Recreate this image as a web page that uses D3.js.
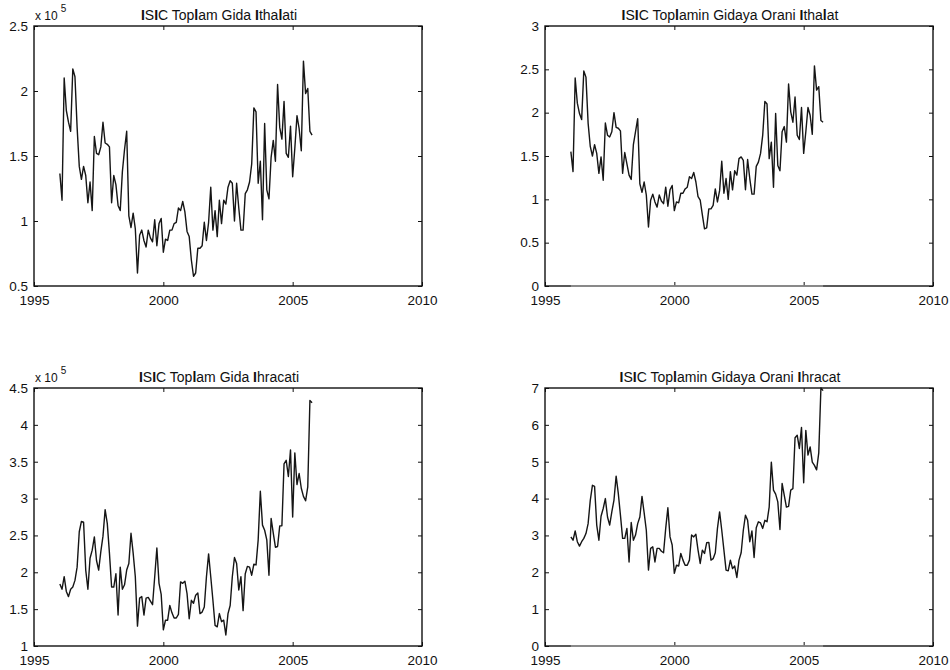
<!DOCTYPE html>
<html>
<head>
<meta charset="utf-8">
<script src="https://cdn.jsdelivr.net/npm/d3@7"></script>
<style>
  html, body { margin: 0; padding: 0; background: #fff; }
  svg { display: block; }
  text { font-family: "Liberation Sans", Arial, sans-serif; fill: #111; }
</style>
</head>
<body>
<svg id="chart" width="950" height="670"></svg>
<script>
// Monthly series, Jan 1996 .. Oct 2005
const startYear = 1996;
const monthsPerYear = 12;

// Total food imports (x 10^5)
const importTotal = [
  1.365,1.16,2.10,1.85,1.76,1.69,2.17,2.11,1.72,1.42,
  1.32,1.42,1.35,1.14,1.30,1.08,1.65,1.52,1.51,1.57,
  1.76,1.60,1.59,1.57,1.14,1.35,1.28,1.12,1.08,1.38,
  1.55,1.69,1.04,0.95,1.06,0.94,0.60,0.89,0.93,0.85,
  0.80,0.93,0.87,0.84,1.01,0.81,0.98,1.02,0.76,0.86,
  0.85,0.93,0.93,0.98,0.99,1.10,1.08,1.15,1.07,0.92,
  0.88,0.70,0.575,0.60,0.79,0.79,0.81,0.99,0.85,0.99,
  1.26,0.93,1.08,0.88,1.16,0.98,1.16,1.13,1.26,1.31,
  1.29,1.00,1.29,1.10,0.93,0.93,1.21,1.24,1.30,1.44,
  1.87,1.84,1.29,1.46,1.01,1.75,1.24,1.17,1.49,1.62,
  1.46,2.05,1.72,1.63,1.92,1.52,1.49,1.73,1.34,1.56,
  1.81,1.71,1.54,2.23,1.98,2.02,1.69,1.66
];

// Food share of total imports
const importRatio = [
  1.55,1.32,2.40,2.11,1.99,1.92,2.48,2.41,1.88,1.61,
  1.50,1.63,1.53,1.30,1.49,1.22,1.88,1.74,1.72,1.78,
  2.00,1.83,1.82,1.79,1.30,1.54,1.41,1.28,1.23,1.63,
  1.78,1.93,1.18,1.08,1.20,1.05,0.68,0.99,1.06,0.97,
  0.91,1.05,0.98,0.95,1.14,0.92,1.11,1.16,0.87,0.97,
  0.96,1.07,1.07,1.12,1.14,1.26,1.24,1.31,1.20,1.03,
  0.99,0.82,0.66,0.67,0.89,0.89,0.93,1.12,0.97,1.10,
  1.44,1.07,1.24,1.00,1.32,1.11,1.33,1.28,1.47,1.49,
  1.45,1.11,1.46,1.24,1.06,1.06,1.38,1.43,1.53,1.74,
  2.13,2.10,1.47,1.66,1.14,1.99,1.39,1.33,1.78,1.84,
  1.66,2.33,2.01,1.89,2.18,1.74,1.69,2.06,1.53,1.78,
  2.06,1.97,1.75,2.54,2.26,2.30,1.91,1.89
];

// Total food exports (x 10^5)
const exportTotal = [
  1.84,1.77,1.94,1.74,1.67,1.77,1.80,1.89,2.07,2.55,
  2.69,2.68,2.03,1.77,2.19,2.30,2.48,2.16,2.03,2.28,
  2.49,2.85,2.66,2.26,1.80,1.80,1.98,1.42,2.07,1.77,
  1.83,2.03,2.12,2.53,2.26,1.94,1.27,1.65,1.67,1.42,
  1.65,1.66,1.61,1.56,1.94,2.33,1.85,1.70,1.22,1.35,
  1.35,1.55,1.45,1.38,1.38,1.43,1.87,1.85,1.88,1.71,
  1.37,1.62,1.58,1.69,1.72,1.44,1.46,1.53,1.94,2.25,
  1.94,1.62,1.28,1.26,1.44,1.33,1.35,1.15,1.44,1.55,
  1.94,2.20,2.12,1.76,1.94,1.48,1.98,2.08,2.07,1.96,
  2.11,2.10,2.44,3.10,2.64,2.57,2.44,1.96,2.73,2.53,
  2.34,2.35,2.63,2.63,3.47,3.52,3.30,3.66,2.75,3.62,
  3.19,3.34,3.14,3.03,2.97,3.16,4.33,4.30
];

// Food share of total exports
const exportRatio = [
  2.96,2.87,3.12,2.83,2.71,2.83,2.92,3.05,3.32,3.95,
  4.36,4.33,3.28,2.87,3.52,3.73,4.00,3.50,3.28,3.64,
  3.96,4.61,4.14,3.55,2.92,2.92,3.19,2.28,3.35,2.87,
  3.01,3.32,3.50,4.06,3.61,3.14,2.06,2.65,2.69,2.28,
  2.65,2.65,2.57,2.53,3.19,3.75,2.96,2.74,1.97,2.19,
  2.17,2.51,2.33,2.19,2.19,2.33,3.01,2.96,3.03,2.60,
  2.24,2.60,2.51,2.80,2.81,2.33,2.37,2.53,3.19,3.64,
  3.14,2.60,2.06,2.04,2.33,2.10,2.17,1.86,2.33,2.53,
  3.14,3.55,3.41,2.83,3.12,2.40,3.21,3.37,3.34,3.19,
  3.41,3.37,3.77,4.99,4.23,4.12,3.91,3.16,4.41,4.09,
  3.77,3.79,4.23,4.27,5.65,5.72,5.36,5.93,4.43,5.85,
  5.18,5.40,4.99,4.90,4.78,5.24,7.00,6.93
];

const xTicks = [1995, 2000, 2005, 2010];
const yTicksImportTotal = [0.5, 1, 1.5, 2, 2.5];
const yTicksImportRatio = [0, 0.5, 1, 1.5, 2, 2.5, 3];
const yTicksExportTotal = [1, 1.5, 2, 2.5, 3, 3.5, 4, 4.5];
const yTicksExportRatio = [0, 1, 2, 3, 4, 5, 6, 7];

const titles = [
  "ISIC Toplam Gida Ithalati",
  "ISIC Toplamin Gidaya Orani Ithalat",
  "ISIC Toplam Gida Ihracati",
  "ISIC Toplamin Gidaya Orani Ihracat"
];

const panels = [
  { title: titles[0], values: importTotal, yTicks: yTicksImportTotal, exp: true,  zero: false,
    box: { x: 34,  y: 26,  w: 388, h: 260 } },
  { title: titles[1], values: importRatio, yTicks: yTicksImportRatio, exp: false, zero: true,
    box: { x: 545, y: 26,  w: 388, h: 260 } },
  { title: titles[2], values: exportTotal, yTicks: yTicksExportTotal, exp: true,  zero: false,
    box: { x: 34,  y: 388, w: 388, h: 258 } },
  { title: titles[3], values: exportRatio, yTicks: yTicksExportRatio, exp: false, zero: true,
    box: { x: 545, y: 388, w: 388, h: 258 } }
];

const svg = d3.select("#chart");
const tickLen = 4;
const tickFont = "13.5px";

panels.forEach(p => {
  const b = p.box;
  const g = svg.append("g").attr("transform", `translate(${b.x},${b.y})`);
  const x = d3.scaleLinear().domain([xTicks[0], xTicks[xTicks.length - 1]]).range([0, b.w]);
  const y = d3.scaleLinear().domain([p.yTicks[0], p.yTicks[p.yTicks.length - 1]]).range([b.h, 0]);

  const data = p.values.map((v, i) => ({ t: startYear + i / monthsPerYear, v }));

  // inward ticks on all four sides, labels only bottom/left
  const bottom = d3.axisBottom(x).tickValues(xTicks).tickSizeInner(-tickLen).tickSizeOuter(0)
    .tickPadding(9.5).tickFormat(d3.format("d"));
  const top = d3.axisTop(x).tickValues(xTicks).tickSizeInner(-tickLen).tickSizeOuter(0).tickFormat("");
  const left = d3.axisLeft(y).tickValues(p.yTicks).tickSizeInner(-tickLen).tickSizeOuter(0)
    .tickPadding(6).tickFormat(d => String(d));
  const right = d3.axisRight(y).tickValues(p.yTicks).tickSizeInner(-tickLen).tickSizeOuter(0).tickFormat("");

  const styleAxis = sel => {
    sel.select(".domain").remove();
    sel.selectAll("line").attr("stroke", "#111").attr("stroke-width", 1);
    sel.selectAll("text").style("font-size", tickFont).attr("fill", "#111");
  };
  g.append("g").attr("transform", `translate(0,${b.h})`).call(bottom).call(styleAxis);
  g.append("g").call(top).call(styleAxis);
  g.append("g").call(left).call(styleAxis);
  g.append("g").attr("transform", `translate(${b.w},0)`).call(right).call(styleAxis);

  // axes box
  g.append("rect").attr("x", 0).attr("y", 0).attr("width", b.w).attr("height", b.h)
    .attr("fill", "none").attr("stroke", "#111").attr("stroke-width", 1.4);

  // zero baseline over the data span
  if (p.zero) {
    g.append("line")
      .attr("x1", x(data[0].t)).attr("x2", x(data[data.length - 1].t))
      .attr("y1", y(0)).attr("y2", y(0))
      .attr("stroke", "#9a9a9a").attr("stroke-width", 1.6);
  }

  const line = d3.line().x(d => x(d.t)).y(d => y(d.v));
  g.append("path").datum(data).attr("d", line)
    .attr("fill", "none").attr("stroke", "#151515").attr("stroke-width", 1.4)
    .attr("stroke-linejoin", "round");

  // title: the font renders capital I and lowercase l with heavy stems
  const t = g.append("text").attr("x", b.w / 2 - 9).attr("y", -6).attr("text-anchor", "middle")
    .style("font-size", "14px");
  const parts = p.title.match(/[Il]|[^Il]+/g);
  parts.forEach(s => {
    const ts = t.append("tspan").text(s);
    if (s === "I" || s === "l") ts.style("font-weight", "bold");
  });

  // exponent label
  if (p.exp) {
    const e = g.append("text").attr("x", 1).attr("y", -6).style("font-size", "12px");
    e.append("tspan").text("x 10");
    e.append("tspan").attr("dy", -8).attr("dx", 3).style("font-size", "10px").text("5");
  }
});
</script>
</body>
</html>
